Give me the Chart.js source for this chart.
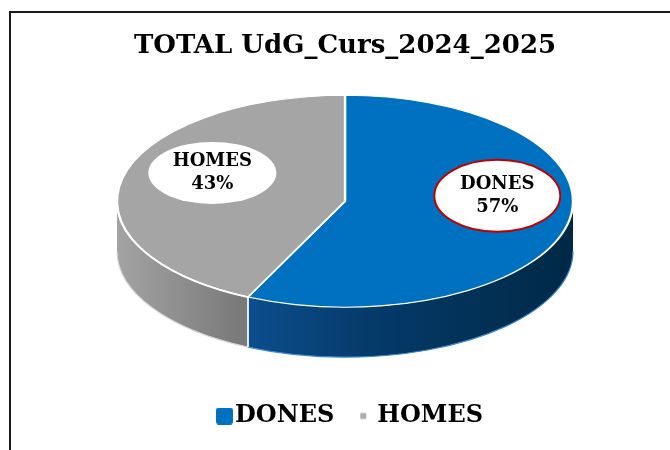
<!DOCTYPE html>
<html>
<head>
<meta charset="utf-8">
<script src="https://cdn.jsdelivr.net/npm/chart.js@4.4.1/dist/chart.umd.min.js"></script>
<style>
  html, body { margin: 0; padding: 0; background: #fff; overflow: hidden; }
  #wrap { width: 670px; height: 450px; }
</style>
</head>
<body>
<div id="wrap"><canvas id="pieChart"></canvas></div>
<script>
const chartTitle = 'TOTAL UdG_Curs_2024_2025';
const categories = ['DONES', 'HOMES'];
const values = [57, 43];

const topColors = ['#0070C0', '#A5A5A5'];
// shading of the pie wall, left to right over the whole pie width
const sideStops = [
  [[0, '#2a6db0'], [0.27, '#0d4f91'], [0.55, '#053b6a'], [1, '#002845']],
  [[0, '#a3a3a3'], [0.27, '#7a7a7a'], [1, '#5a5a5a']]
];
const rimColors = ['#3d88cc', '#d6d6d6'];
const topRimColors = [null, '#ffffff'];

const SERIF = '"DejaVu Serif", "Liberation Serif", serif';
const PIE3D = { rx: 228, ry: 106, depth: 50 };

// label placement: shift from the slice middle (degrees) and radius fraction
const labelShift = [-17, 12];
const labelRadius = [0.67, 0.64];
const labelBoxes = [
  { rx: 63, ry: 36, border: '#C00000' },
  { rx: 64, ry: 31, border: null }
];

function projection(chart) {
  const a = chart.chartArea;
  return { cx: (a.left + a.right) / 2, cy: a.top + PIE3D.ry, rx: PIE3D.rx, ry: PIE3D.ry, d: PIE3D.depth };
}

function frontRanges(s, e) {
  const out = [];
  for (let k = -1; k <= 1; k++) {
    const lo = Math.max(s, 2 * Math.PI * k);
    const hi = Math.min(e, 2 * Math.PI * k + Math.PI);
    if (hi > lo) out.push([lo, hi]);
  }
  return out;
}

// legend markers: big rounded square for DONES, small square for HOMES
function makeMark(color, size, gap) {
  const c = document.createElement('canvas');
  c.width = 36; c.height = 17;
  const g = c.getContext('2d');
  g.fillStyle = color;
  const x = 36 - gap - size, y = (17 - size) / 2;
  if (size > 10) {
    g.beginPath();
    g.roundRect(x, y, size, size, 3);
    g.fill();
  } else {
    g.fillRect(x, y, size, size);
  }
  return c;
}
const legendMarks = [makeMark(topColors[0], 17, 0), makeMark('#ADADAD', 6, 9)];

const framePlugin = {
  id: 'frame',
  beforeDraw(chart) {
    const ctx = chart.ctx;
    ctx.save();
    ctx.fillStyle = '#fff';
    ctx.fillRect(0, 0, chart.width, chart.height);
    ctx.strokeStyle = '#1a1a1a';
    ctx.lineWidth = 2;
    ctx.beginPath();
    ctx.moveTo(10, chart.height);
    ctx.lineTo(10, 12);
    ctx.lineTo(chart.width, 12);
    ctx.stroke();
    ctx.restore();
  }
};

const pie3d = {
  id: 'pie3d',
  beforeDatasetsDraw(chart) {
    const ctx = chart.ctx;
    const p = projection(chart);
    const arcs = chart.getDatasetMeta(0).data;
    arcs.forEach((arc, i) => {
      frontRanges(arc.startAngle, arc.endAngle).forEach(([a1, a2]) => {
        const g = ctx.createLinearGradient(p.cx - p.rx, 0, p.cx + p.rx, 0);
        sideStops[i].forEach(([o, c]) => g.addColorStop(o, c));
        ctx.save();
        ctx.beginPath();
        ctx.ellipse(p.cx, p.cy, p.rx, p.ry, 0, a1, a2, false);
        ctx.ellipse(p.cx, p.cy + p.d, p.rx, p.ry, 0, a2, a1, true);
        ctx.closePath();
        ctx.fillStyle = g;
        ctx.fill();
        ctx.beginPath();
        ctx.ellipse(p.cx, p.cy + p.d, p.rx, p.ry, 0, a1, a2, false);
        ctx.strokeStyle = rimColors[i];
        ctx.lineWidth = 1.2;
        ctx.stroke();
        ctx.strokeStyle = '#ffffff';
        ctx.lineWidth = 1.5;
        [a1, a2].forEach(a => {
          if (Math.sin(a) < 0.05) return;
          const x = p.cx + p.rx * Math.cos(a), y = p.cy + p.ry * Math.sin(a);
          ctx.beginPath();
          ctx.moveTo(x, y);
          ctx.lineTo(x, y + p.d);
          ctx.stroke();
        });
        ctx.restore();
      });
    });
  },
  beforeDatasetDraw(chart) {
    const ctx = chart.ctx;
    const arc = chart.getDatasetMeta(0).data[0];
    const p = projection(chart);
    const R = arc.outerRadius;
    ctx.save();
    ctx.translate(p.cx, p.cy);
    ctx.scale(p.rx / R, p.ry / R);
    ctx.translate(-arc.x, -arc.y);
  },
  afterDatasetDraw(chart) {
    chart.ctx.restore();
  },
  afterDatasetsDraw(chart) {
    const ctx = chart.ctx;
    const p = projection(chart);
    const total = values.reduce((s, v) => s + v, 0);
    const arcs = chart.getDatasetMeta(0).data;
    // white edge where the grey top meets its wall
    arcs.forEach((arc, i) => {
      if (!topRimColors[i]) return;
      frontRanges(arc.startAngle, arc.endAngle).forEach(([a1, a2]) => {
        ctx.save();
        ctx.beginPath();
        ctx.ellipse(p.cx, p.cy, p.rx, p.ry, 0, a1, a2, false);
        ctx.strokeStyle = topRimColors[i];
        ctx.lineWidth = 1.6;
        ctx.stroke();
        ctx.restore();
      });
    });
    arcs.forEach((arc, i) => {
      const mid = (arc.startAngle + arc.endAngle) / 2 + labelShift[i] * Math.PI / 180;
      const x = p.cx + p.rx * labelRadius[i] * Math.cos(mid);
      const y = p.cy + p.ry * labelRadius[i] * Math.sin(mid);
      const b = labelBoxes[i];
      ctx.save();
      ctx.beginPath();
      ctx.ellipse(x, y, b.rx, b.ry, 0, 0, Math.PI * 2);
      ctx.fillStyle = '#ffffff';
      ctx.fill();
      if (b.border) {
        ctx.strokeStyle = b.border;
        ctx.lineWidth = 2;
        ctx.stroke();
      }
      ctx.fillStyle = '#000';
      ctx.font = 'bold 18px ' + SERIF;
      ctx.textAlign = 'center';
      ctx.textBaseline = 'middle';
      ctx.fillText(categories[i], x, y - 11.5);
      ctx.fillText(Math.round(values[i] / total * 100) + '%', x, y + 11.5);
      ctx.restore();
    });
  }
};

new Chart(document.getElementById('pieChart'), {
  type: 'pie',
  data: {
    labels: categories,
    datasets: [{
      data: values,
      backgroundColor: topColors,
      borderColor: '#ffffff',
      borderWidth: 1.5,
      clip: false
    }]
  },
  options: {
    responsive: true,
    maintainAspectRatio: false,
    animation: false,
    events: [],
    layout: { padding: { left: 20, right: 0, top: 0, bottom: 12 } },
    plugins: {
      title: {
        display: true,
        text: chartTitle,
        color: '#000',
        font: { family: SERIF, size: 26, weight: 'bold' },
        padding: { top: 31, bottom: 33 }
      },
      legend: {
        position: 'bottom',
        labels: {
          usePointStyle: true,
          pointStyleWidth: 16,
          boxHeight: 16,
          padding: 15,
          color: '#000',
          font: { family: SERIF, size: 24, weight: 'bold' },
          generateLabels: () => categories.map((c, i) => ({
            text: c,
            pointStyle: legendMarks[i],
            fillStyle: topColors[i],
            strokeStyle: topColors[i],
            lineWidth: 0,
            hidden: false,
            index: i,
            datasetIndex: 0
          }))
        }
      },
      tooltip: { enabled: false }
    }
  },
  plugins: [framePlugin, pie3d]
});
</script>
</body>
</html>
